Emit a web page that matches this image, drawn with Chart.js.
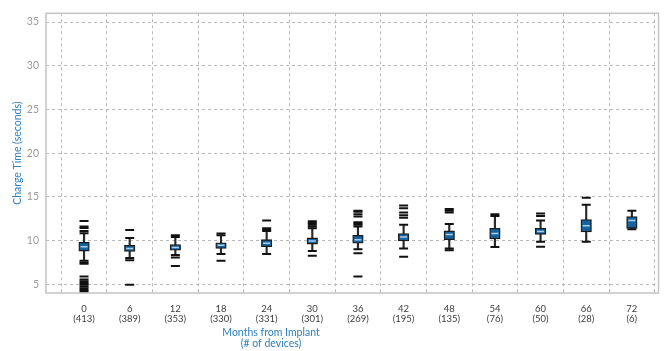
<!DOCTYPE html>
<html>
<head>
<meta charset="utf-8">
<script src="https://cdn.jsdelivr.net/npm/chart.js@4/dist/chart.umd.min.js"></script>
<style>
  html, body { margin: 0; padding: 0; background: #ffffff; }
  #wrap { width: 665px; height: 351px; }
</style>
</head>
<body>
<div id="wrap"><canvas id="c" width="665" height="351"></canvas></div>
<script>
// ---- data ----
const months   = [0, 6, 12, 18, 24, 30, 36, 42, 48, 54, 60, 66, 72];
const devices  = [413, 389, 353, 330, 331, 301, 269, 195, 135, 76, 50, 28, 6];
const q1       = [8.8, 8.75, 8.9, 9.1, 9.3, 9.6, 9.7, 9.95, 10.1, 10.2, 10.7, 11.0, 11.4];
const medians  = [9.3, 9.1, 9.2, 9.45, 9.7, 9.95, 10.1, 10.4, 10.7, 10.8, 11.05, 11.7, 12.3];
const q3       = [9.8, 9.45, 9.55, 9.75, 10.1, 10.3, 10.6, 10.8, 11.1, 11.4, 11.4, 12.4, 12.75];
const whiskLow = [7.7, 8.0, 8.35, 8.45, 8.45, 8.8, 9.0, 9.1, 9.1, 9.25, 9.85, 9.85, 11.3];
const whiskHigh= [10.85, 10.3, 10.4, 10.6, 11.1, 11.4, 11.6, 11.8, 11.9, 12.8, 12.3, 14.1, 13.4];
const outliers = [
  [11.1, 11.45, 11.6, 12.25, 7.5, 7.35, 5.9, 5.55, 5.35, 5.15, 4.95, 4.75, 4.55, 4.35, 4.15],
  [11.2, 7.75, 4.95],
  [10.6, 8.05, 7.1],
  [10.8, 7.7],
  [11.25, 11.4, 12.3],
  [11.6, 11.8, 12.0, 12.2, 8.25],
  [11.8, 11.95, 12.1, 12.75, 13.0, 13.3, 13.4, 8.55, 5.9],
  [12.6, 12.9, 13.2, 13.7, 14.0, 8.15],
  [13.2, 13.4, 13.6, 8.9],
  [13.0],
  [12.8, 13.1, 9.3],
  [14.9],
  []
];
const yTicks = [5, 10, 15, 20, 25, 30, 35];
const yTitle = 'Charge Time (seconds)';
const xTitle = ['Months from Implant', '(# of devices)'];

// ---- build datasets ----
const boxData = months.map((m, i) => ({ x: m, y: [q1[i], q3[i]] }));
const whiskerData = months.map((m, i) => ({ x: m, y: [whiskLow[i], whiskHigh[i]] }));
const medianData = months.map((m, i) => ({ x: m, y: medians[i] }));
const capData = [];
months.forEach((m, i) => {
  capData.push({ x: m, y: whiskLow[i] });
  capData.push({ x: m, y: whiskHigh[i] });
  outliers[i].forEach(v => capData.push({ x: m, y: v }));
});

const frame = {
  id: 'frame',
  afterDatasetsDraw(chart) {
    const { ctx, chartArea: a } = chart;
    ctx.save();
    ctx.strokeStyle = '#c4c4c4';
    ctx.lineWidth = 1.5;
    ctx.strokeRect(a.left, a.top, a.right - a.left, a.bottom - a.top);
    ctx.restore();
  },
  afterDraw(chart) {
    const { ctx } = chart;
    ctx.save();
    ctx.font = '10.5px Lato';
    ctx.fillStyle = '#2f80c0';
    ctx.textAlign = 'center';
    ctx.textBaseline = 'middle';
    ctx.fillText(xTitle[0], 271, 333);
    ctx.fillText(xTitle[1], 271, 344);
    ctx.restore();
  }
};

new Chart(document.getElementById('c'), {
  type: 'bar',
  data: {
    datasets: [
      {
        type: 'bar', data: whiskerData, grouped: false,
        backgroundColor: '#2a2a2a', borderWidth: 0,
        barThickness: 1.5, maxBarThickness: 1.5, order: 4
      },
      {
        type: 'scatter', data: capData, showLine: false,
        pointStyle: 'line', pointRadius: 4.5, pointHoverRadius: 4.5,
        borderColor: '#111111', borderWidth: 2, order: 3
      },
      {
        type: 'bar', data: boxData, grouped: false,
        backgroundColor: '#16649f', borderColor: '#1b1b1b', borderWidth: 1.3,
        borderSkipped: false, barThickness: 10.5, maxBarThickness: 10.5, order: 2
      },
      {
        type: 'scatter', data: medianData, showLine: false,
        pointStyle: 'line', pointRadius: 3.5, pointHoverRadius: 3.5,
        borderColor: '#a8d0ee', borderWidth: 1.5, order: 1
      }
    ]
  },
  options: {
    responsive: false,
    animation: false,
    layout: { padding: { top: 7, right: 3, left: 0, bottom: 0 } },
    plugins: { legend: { display: false }, tooltip: { enabled: false } },
    scales: {
      x: {
        type: 'linear', min: -5, max: 75.5, offset: false,
        afterBuildTicks: s => { s.ticks = months.map(v => ({ value: v })); },
        afterFit: s => { s.height = 58; },
        grid: { color: '#b8b8b8', lineWidth: 1, drawTicks: false },
        border: { display: false, dash: [3, 3] },
        ticks: {
          autoSkip: false, maxRotation: 0, padding: 10,
          color: '#3c3c3c', font: { family: 'Lato', size: 9.5, lineHeight: 1.15 },
          callback: (v) => { const i = months.indexOf(v); return i < 0 ? '' : [String(v), '(' + devices[i] + ')']; }
        }
      },
      y: {
        type: 'linear', min: 4, max: 36,
        afterBuildTicks: s => { s.ticks = yTicks.map(v => ({ value: v })); },
        afterFit: s => { s.width = 46; },
        grid: { color: '#b8b8b8', lineWidth: 1, drawTicks: false },
        border: { display: false, dash: [3, 3] },
        ticks: { padding: 7, color: '#9a9a9a', font: { family: 'Lato', size: 10.5 } },
        title: {
          display: true, text: yTitle, color: '#2f80c0',
          font: { family: 'Lato', size: 10.5 }, padding: { top: 11, bottom: 0 }
        }
      }
    }
  },
  plugins: [frame]
});
</script>
</body>
</html>
